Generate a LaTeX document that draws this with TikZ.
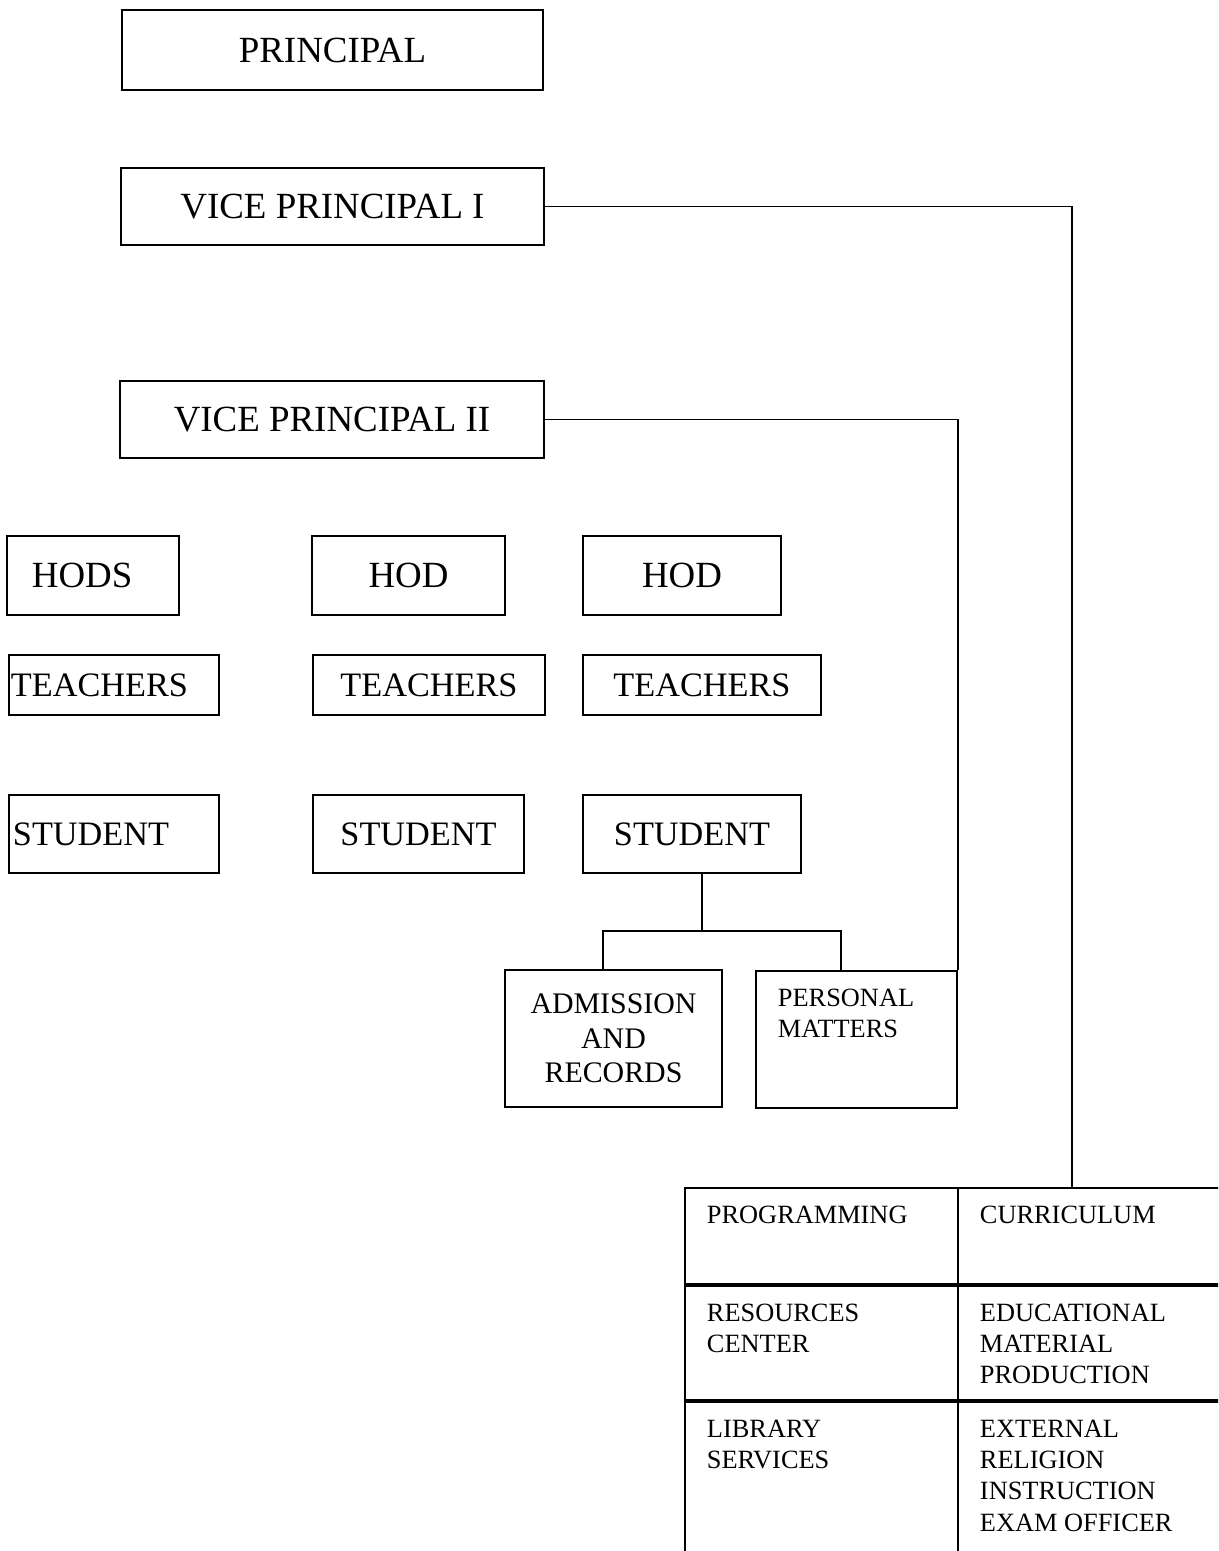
\documentclass[tikz,border=0pt]{standalone}
\usepackage{fontspec}
\setmainfont{Liberation Serif}

\newcommand{\cellbox}[3]{\parbox[t][#1][t]{#2}{\raggedright #3}}

\begin{document}
\begin{tikzpicture}[x=0.02cm, y=-0.02cm, line width=1.1pt,
    bigbox/.style={draw, inner sep=0pt, font=\fontsize{21}{25}\selectfont},
    rowbox/.style={draw, inner sep=0pt, font=\fontsize{19.5}{23}\selectfont},
    midbox/.style={draw, inner sep=0pt, align=center, font=\fontsize{17}{19.6}\selectfont},
    cell/.style={draw, anchor=north west, inner xsep=0.44cm, inner ysep=0.36cm,
      font=\fontsize{15}{17.8}\selectfont}]
    \useasboundingbox (0,0) rectangle (1218,1551);
    \clip (0,0) rectangle (1218,1551);
    % top of the chart
    \node[bigbox, minimum width=8.42cm, minimum height=1.6cm] (prin) at (332.5,50) {PRINCIPAL};
    \node[bigbox, minimum width=8.46cm, minimum height=1.54cm] (vpi) at (332.5,206.5) {VICE PRINCIPAL I};
    \node[bigbox, minimum width=8.48cm, minimum height=1.54cm] (vpii) at (332,419.5) {VICE PRINCIPAL II};
    % heads of department
    \node[bigbox, anchor=west, text width=2.44cm, align=left, inner xsep=0.5cm,
      minimum height=1.58cm] (hods) at (6,575.5) {HODS};
    \node[bigbox, minimum width=3.86cm, minimum height=1.58cm] (hod2) at (408.5,575.5) {HOD};
    \node[bigbox, minimum width=3.96cm, minimum height=1.58cm] (hod3) at (682,575.5) {HOD};
    % teachers
    \node[rowbox, anchor=west, text width=4.12cm, align=left, inner xsep=0.04cm,
      minimum height=1.2cm] (teach1) at (8,685) {TEACHERS};
    \node[rowbox, minimum width=4.64cm, minimum height=1.2cm] (teach2) at (429,685) {TEACHERS};
    \node[rowbox, minimum width=4.76cm, minimum height=1.2cm] (teach3) at (702,685) {TEACHERS};
    % students
    \node[rowbox, anchor=west, text width=4.04cm, align=left, inner xsep=0.08cm,
      minimum height=1.56cm] (stud1) at (8,834) {STUDENT};
    \node[rowbox, minimum width=4.22cm, minimum height=1.56cm] (stud2) at (418.5,834) {STUDENT};
    \node[rowbox, minimum width=4.36cm, minimum height=1.56cm] (stud3) at (692,834) {STUDENT};
    \node[midbox, minimum width=4.34cm, minimum height=2.74cm] (adm) at (613.5,1038.5)
      {ADMISSION\\AND\\RECORDS};
    \node[cell] (pers) at (755,970) {\cellbox{2.02cm}{3.14cm}{PERSONAL\\MATTERS}};
    % table under vice principal I
    \node[cell] (prog) at (684,1187) {\cellbox{1.2cm}{4.58cm}{PROGRAMMING}};
    \node[cell] (curr) at (957,1187) {\cellbox{1.2cm}{4.58cm}{CURRICULUM}};
    \node[cell] (res) at (684,1285) {\cellbox{1.56cm}{4.58cm}{RESOURCES\\CENTER}};
    \node[cell] (edu) at (957,1285) {\cellbox{1.56cm}{4.58cm}{EDUCATIONAL\\MATERIAL\\PRODUCTION}};
    \node[cell] (lib) at (684,1401) {\cellbox{2.64cm}{4.58cm}{LIBRARY\\SERVICES}};
    \node[cell] (ext) at (957,1401)
      {\cellbox{2.64cm}{4.58cm}{EXTERNAL\\RELIGION\\INSTRUCTION\\EXAM OFFICER}};
    % connectors
    \draw (vpi.east) -| ([xshift=-0.45cm]curr.north);
    \draw (vpii.east) -| (pers.north east);
    \coordinate (fork) at (702,931);
    \draw ([xshift=0.2cm]stud3.south) -- (fork);
    \draw ([xshift=-0.21cm]adm.north) |- (fork) -| ([xshift=-0.31cm]pers.north);
  \end{tikzpicture}
\end{document}
